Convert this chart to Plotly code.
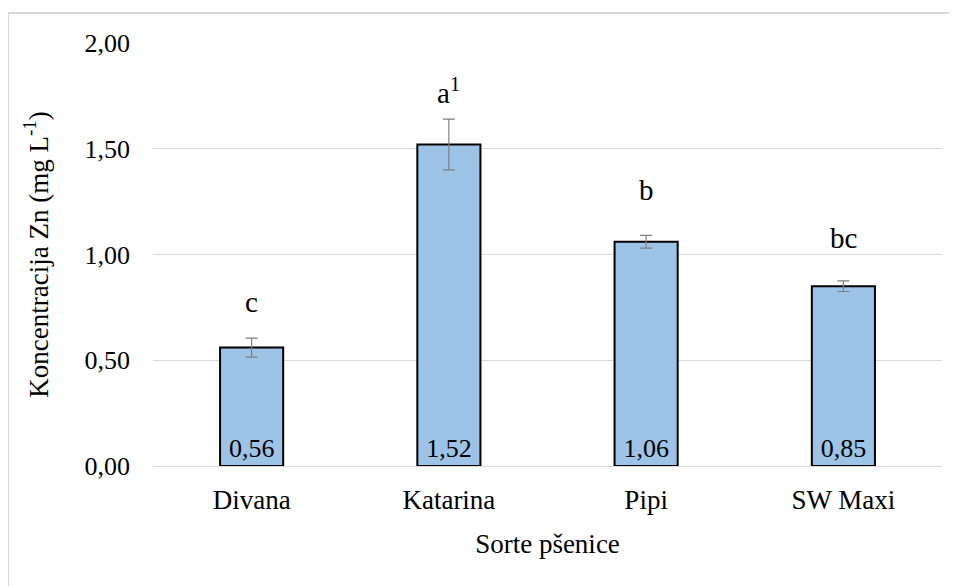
import plotly.graph_objects as go

categories = ["Divana", "Katarina", "Pipi", "SW Maxi"]
values = [0.56, 1.52, 1.06, 0.85]
errors = [0.045, 0.12, 0.03, 0.025]
value_labels = ["0,56", "1,52", "1,06", "0,85"]
letters = ["c", "a<sup>1</sup>", "b", "bc"]
letter_y = [0.775, 1.773, 1.307, 1.076]
y_ticks = [0, 0.5, 1.0, 1.5, 2.0]
y_tick_labels = ["0,00", "0,50", "1,00", "1,50", "2,00"]

font = "'Liberation Serif', 'DejaVu Serif', serif"

fig = go.Figure()
fig.add_trace(go.Bar(
    x=categories, y=values,
    marker=dict(color="#9DC3E6", line=dict(color="black", width=2)),
    width=0.32,
    error_y=dict(type="data", array=errors, color="#7f7f7f", thickness=1.2, width=6),
    text=value_labels, textposition="inside", insidetextanchor="start",
    textfont=dict(family=font, size=26, color="black"),
    textangle=0,
))

for c, t, yy in zip(categories, letters, letter_y):
    fig.add_annotation(x=c, y=yy, text=t, showarrow=False,
                       font=dict(family=font, size=29, color="black"))

fig.update_layout(
    width=949, height=578,
    margin=dict(l=145, r=15, t=35, b=120),
    paper_bgcolor="white", plot_bgcolor="white",
    showlegend=False,
    font=dict(family=font, color="black"),
    uniformtext=dict(minsize=8, mode=False),
)
fig.update_yaxes(
    range=[0, 2.0], tickvals=y_ticks, ticktext=y_tick_labels,
    showgrid=True, gridcolor="#d9d9d9", gridwidth=1,
    zeroline=True, zerolinecolor="#d9d9d9", zerolinewidth=1,
    tickfont=dict(family=font, size=26, color="black"),
    ticks="", ticklabelstandoff=22,
    title=dict(text="Koncentracija Zn (mg L<sup>-1</sup>)",
               font=dict(family=font, size=27, color="black"), standoff=28),
)
fig.update_xaxes(
    showgrid=False, showline=False,
    tickfont=dict(family=font, size=27, color="black"),
    ticks="", ticklabelstandoff=15,
    title=dict(text="Sorte pšenice", font=dict(family=font, size=27, color="black"), standoff=20),
)
fig.add_shape(type="rect", xref="paper", yref="paper",
              x0=-0.1838, x1=1.2, y0=-0.6, y1=1.0709,
              line=dict(color="#d9d9d9", width=2), fillcolor="rgba(0,0,0,0)", layer="below")

fig.write_html("out.html")
